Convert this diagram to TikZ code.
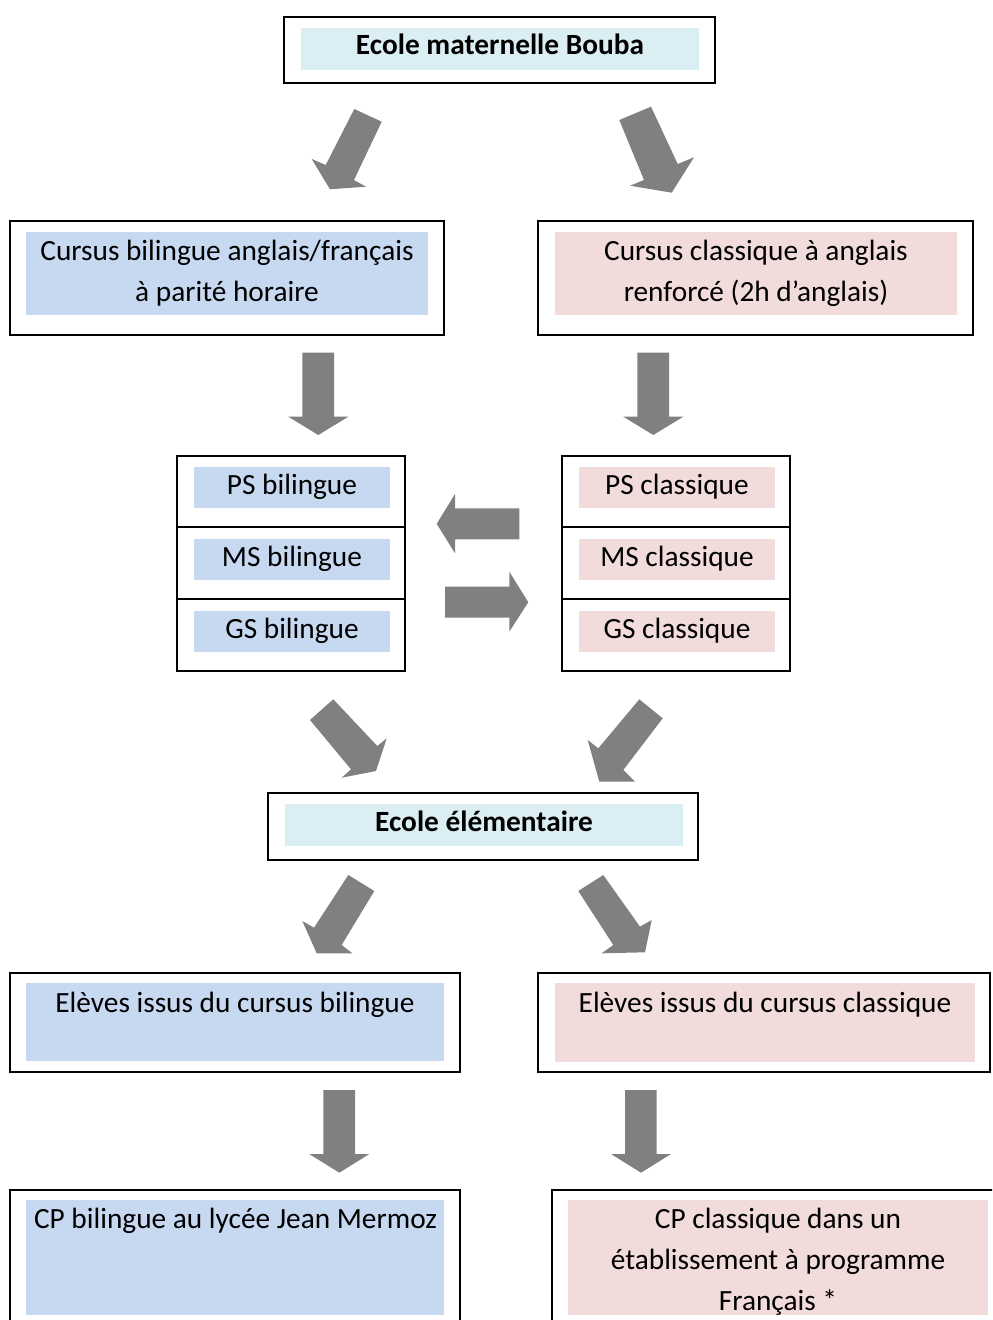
\documentclass[tikz,border=0pt]{standalone}
\usepackage{fontspec}
\setmainfont{Carlito}
\usetikzlibrary{fit}
\definecolor{hdrfill}{HTML}{DAEEF3}
\definecolor{bifill}{HTML}{C6D9F1}
\definecolor{clfill}{HTML}{F2DBDB}
\definecolor{arrowgray}{HTML}{808080}
\begin{document}
\begin{tikzpicture}[x=0.75pt,y=-0.75pt,
  outerbox/.style={draw=black, line width=1.1pt, inner sep=0pt},
  hdr/.style={fill=hdrfill, inner sep=0pt},
  bil/.style={fill=bifill, inner sep=0pt},
  cla/.style={fill=clfill, inner sep=0pt},
  txt/.style={inner sep=0pt, anchor=base, font=\fontsize{22}{30.75}\selectfont},
  blockarrow/.style={fill=arrowgray}]
\clip (0,0) rectangle (992,1320);
\fill[white] (0,0) rectangle (992,1320);

% Top box
\node[outerbox, fit={(284,17)(715,83)}] (top) {};
\node[hdr, fit={(301,28)(699,70)}] (topin) {};
\node[txt] (toptxt) at (500,55) {\bfseries Ecole maternelle Bouba};

% Cursus boxes
\node[outerbox, fit={(10,221)(444,335)}] (cbil) {};
\node[bil, fit={(26,232)(428,315)}] (cbilin) {};
\node[txt] (cbil1) at (227,260) {Cursus bilingue anglais/français};
\node[txt] (cbil2) at (227,301) {à parité horaire};

\node[outerbox, fit={(538,221)(973,335)}] (ccla) {};
\node[cla, fit={(555,232)(957,315)}] (cclain) {};
\node[txt] (ccla1) at (756,260) {Cursus classique à anglais};
\node[txt] (ccla2) at (756,301) {renforcé (2h d’anglais)};

% Level tables
\node[outerbox, fit={(177,456)(405,527)}] (psb) {};
\node[outerbox, fit={(177,527)(405,599)}] (msb) {};
\node[outerbox, fit={(177,599)(405,671)}] (gsb) {};
\node[bil, fit={(194,467)(390,508)}] (psbin) {};
\node[bil, fit={(194,539)(390,580)}] (msbin) {};
\node[bil, fit={(194,611)(390,652)}] (gsbin) {};
\node[txt] (psbt) at (292,494) {PS bilingue};
\node[txt] (msbt) at (292,566) {MS bilingue};
\node[txt] (gsbt) at (292,638) {GS bilingue};

\node[outerbox, fit={(562,456)(790,527)}] (psc) {};
\node[outerbox, fit={(562,527)(790,599)}] (msc) {};
\node[outerbox, fit={(562,599)(790,671)}] (gsc) {};
\node[cla, fit={(579,467)(775,508)}] (pscin) {};
\node[cla, fit={(579,539)(775,580)}] (mscin) {};
\node[cla, fit={(579,611)(775,652)}] (gscin) {};
\node[txt] (psct) at (677,494) {PS classique};
\node[txt] (msct) at (677,566) {MS classique};
\node[txt] (gsct) at (677,638) {GS classique};

% Ecole elementaire
\node[outerbox, fit={(268,793)(698,860)}] (elem) {};
\node[hdr, fit={(285,804)(683,846)}] (elemin) {};
\node[txt] (elemt) at (484,831) {\bfseries Ecole élémentaire};

% Eleves boxes
\node[outerbox, fit={(10,973)(460,1072)}] (eb) {};
\node[bil, fit={(26,983)(444,1061)}] (ebin) {};
\node[txt] (ebt) at (235,1012) {Elèves issus du cursus bilingue};

\node[outerbox, fit={(538,973)(990,1072)}] (ec) {};
\node[cla, fit={(555,983)(975,1062)}] (ecin) {};
\node[txt] (ect) at (765,1012) {Elèves issus du cursus classique};

% CP boxes
\node[outerbox, fit={(10,1190)(460,1335)}] (cpb) {};
\node[bil, fit={(26,1200)(444,1315)}] (cpbin) {};
\node[txt] (cpbt) at (235.5,1228) {CP bilingue au lycée Jean Mermoz};

\node[outerbox, fit={(552,1190)(1004,1335)}] (cpc) {};
\node[cla, fit={(568,1200)(988,1315)}] (cpcin) {};
\node[txt] (cpc1) at (778,1228) {CP classique dans un};
\node[txt] (cpc2) at (778,1269) {établissement à programme};
\node[txt] (cpc3) at (778,1310) {Français *};

% Block arrows
\fill[blockarrow] (354.3,109) -- (381.7,121.7) -- (354,180) -- (366,186.7) -- (330,189.3) -- (311.7,159) -- (325.7,165) -- cycle;
\fill[blockarrow] (619.3,120) -- (651,106.7) -- (677.7,164) -- (694,157.3) -- (671.7,192.7) -- (630,185.7) -- (644,180) -- cycle;
\fill[blockarrow] (302.3,352.7) -- (334,352.7) -- (334,416.7) -- (348.3,416.7) -- (318.3,435) -- (288.3,416.7) -- (302.3,416.7) -- cycle;
\fill[blockarrow] (637.3,352.7) -- (669,352.7) -- (669,416.7) -- (683.3,416.7) -- (653.3,435) -- (623.3,416.7) -- (637.3,416.7) -- cycle;
\fill[blockarrow] (519.3,508.3) -- (519.3,539.3) -- (455,539.3) -- (455,553.3) -- (436.7,523.8) -- (455,494) -- (455,508.3) -- cycle;
\fill[blockarrow] (445,586.7) -- (509.3,586.7) -- (509.3,571.7) -- (528.3,602.2) -- (509.3,631.7) -- (509.3,617.7) -- (445,617.7) -- cycle;
\fill[blockarrow] (310,720) -- (333.3,699.3) -- (377.3,746) -- (386.7,738.3) -- (376,771) -- (341.7,777.7) -- (351,769.3) -- cycle;
\fill[blockarrow] (639.3,699.3) -- (662.7,718.3) -- (623.3,770) -- (635,781.7) -- (599.3,781.7) -- (587.7,740) -- (598.3,748.3) -- cycle;
\fill[blockarrow] (348.3,875) -- (374.3,891) -- (341.7,945) -- (352.3,953.3) -- (316.7,953.3) -- (302.3,921) -- (314,927.7) -- cycle;
\fill[blockarrow] (578.3,891) -- (603.3,875) -- (640,926.7) -- (651.7,920) -- (645,952.3) -- (601.7,953.3) -- (613.3,945) -- cycle;
\fill[blockarrow] (323.3,1090) -- (355,1090) -- (355,1154) -- (369.3,1154) -- (339.3,1172.7) -- (309.3,1154) -- (323.3,1154) -- cycle;
\fill[blockarrow] (625,1090) -- (656.7,1090) -- (656.7,1154) -- (671,1154) -- (641,1172.7) -- (611,1154) -- (625,1154) -- cycle;
\end{tikzpicture}
\end{document}
